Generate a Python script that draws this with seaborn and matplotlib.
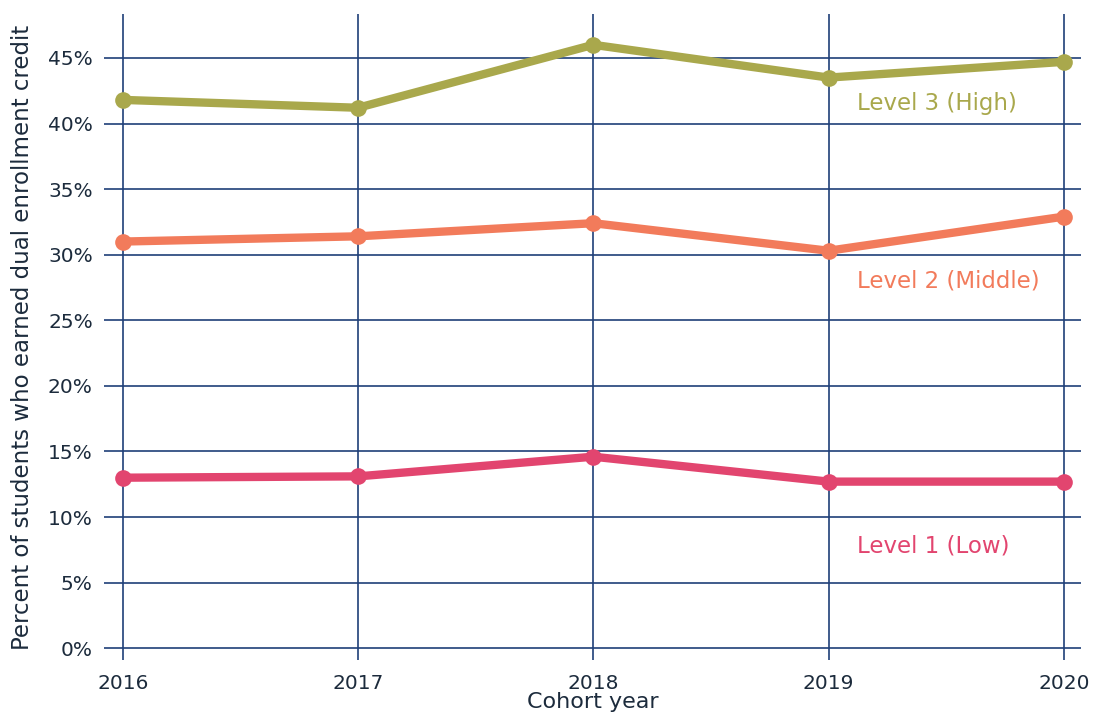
import matplotlib
matplotlib.use("Agg")
import matplotlib.pyplot as plt
import seaborn as sns
import pandas as pd

years = [2016, 2017, 2018, 2019, 2020]
level3_high = [41.8, 41.2, 46.0, 43.5, 44.7]
level2_middle = [31.0, 31.4, 32.4, 30.3, 32.9]
level1_low = [13.0, 13.1, 14.6, 12.7, 12.7]
series_names = ["Level 3 (High)", "Level 2 (Middle)", "Level 1 (Low)"]
y_ticks = [0, 5, 10, 15, 20, 25, 30, 35, 40, 45]

colors = {"Level 3 (High)": "#a9a84c", "Level 2 (Middle)": "#f27b5b", "Level 1 (Low)": "#e2456f"}
label_pos = {"Level 3 (High)": 41.5, "Level 2 (Middle)": 28.0, "Level 1 (Low)": 7.8}

rows = []
for name, vals in zip(series_names, [level3_high, level2_middle, level1_low]):
    for yr, v in zip(years, vals):
        rows.append({"year": yr, "value": v, "series": name})
df = pd.DataFrame(rows)

sns.set_theme(style="white")
plt.rcParams['font.family'] = ['DejaVu Sans']

fig = plt.figure(figsize=(11, 7.2), dpi=100)
ax = fig.add_axes([0.0945, 0.0833, 0.888, 0.8973])

grid_c = "#1f3f78"
ax.set_axisbelow(True)
ax.grid(True, color=grid_c, linewidth=1.2)

sns.lineplot(data=df, x="year", y="value", hue="series", palette=colors,
             marker="o", markersize=12, markeredgewidth=0, linewidth=6,
             legend=False, ax=ax)

for name in series_names:
    ax.text(2019.12, label_pos[name], name, color=colors[name], fontsize=16.5,
            ha="left", va="center")

ax.set_xlim(2015.92, 2020.072)
ax.set_ylim(-0.9, 48.35)
ax.set_xticks(years)
ax.set_xticklabels([str(y) for y in years])
ax.set_yticks(y_ticks)
ax.set_yticklabels([f"{t}%" for t in y_ticks])
text_c = "#1c2b3c"
ax.tick_params(axis="both", length=0, labelsize=14.5, labelcolor=text_c)
ax.tick_params(axis="y", pad=8)
ax.tick_params(axis="x", pad=10)
for s in ax.spines.values():
    s.set_visible(False)

ax.set_xlabel("Cohort year", fontsize=16, color=text_c, labelpad=-1)
ax.set_ylabel("Percent of students who earned dual enrollment credit", fontsize=16.5,
              color=text_c, labelpad=10)

fig.savefig("out.png", dpi=100)
